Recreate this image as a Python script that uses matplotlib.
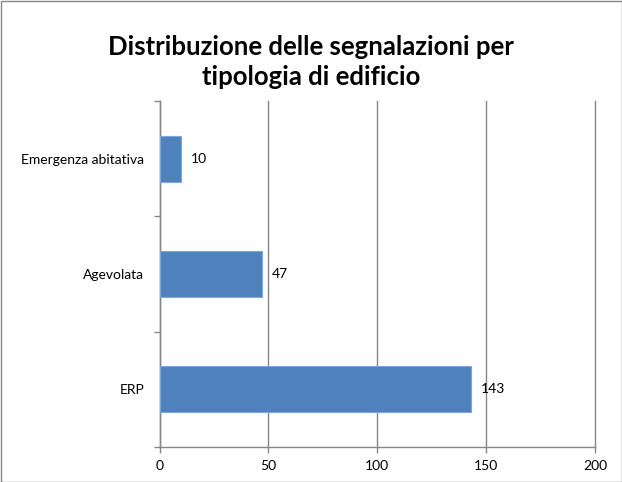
import matplotlib

matplotlib.use("Agg")
import matplotlib.pyplot as plt
from matplotlib.patches import Rectangle

plt.rcParams["font.family"] = ["Lato", "DejaVu Sans"]

categories = ["ERP", "Agevolata", "Emergenza abitativa"]
values = [143, 47, 10]
x_ticks = [0, 50, 100, 150, 200]

BAR = "#4F81BD"
GRID = "#868686"

fig = plt.figure(figsize=(6.22, 4.82), dpi=100)
fig.patches.append(
    Rectangle((0.5 / 622, 0.5 / 482), 1 - 1 / 622, 1 - 1 / 482, transform=fig.transFigure,
              fill=False, edgecolor=GRID, linewidth=1.0)
)

W, H = 622, 482
left, right, top, bottom = 159.5, 595, 101, 447
ax = fig.add_axes([left / W, 1 - bottom / H, (right - left) / W, (bottom - top) / H])

pos = range(len(categories))
ax.barh(pos, values, height=0.4, color=BAR, edgecolor="#7EA6D9", linewidth=0.8, zorder=3)
for y, v in zip(pos, values):
    ax.annotate(str(v), (v, y), xytext=(7, 0), textcoords="offset points",
                ha="left", va="center", fontsize=10, color="black", zorder=4)

ax.set_xlim(0, 200)
ax.set_ylim(-0.5, len(categories) - 0.5)
ax.set_xticks(x_ticks)
ax.set_yticks(list(pos))
ax.set_yticklabels(categories)
ax.set_yticks([-0.5, 0.5, 1.5, 2.5], minor=True)
ax.tick_params(axis="y", which="major", length=0, pad=11, labelsize=10)
ax.tick_params(axis="y", which="minor", length=4, color=GRID, width=1)
ax.tick_params(axis="x", length=4, color=GRID, width=1, labelsize=10, pad=5)

ax.grid(axis="x", color=GRID, linewidth=1, zorder=0)
for gl in ax.get_xgridlines():
    gl.set_clip_on(False)
for side in ("top", "right"):
    ax.spines[side].set_visible(False)
for side in ("left", "bottom"):
    ax.spines[side].set_color(GRID)
    ax.spines[side].set_linewidth(1)

fig.text(0.5, 1 - 47 / H, "Distribuzione delle segnalazioni per", ha="center", va="center",
         fontsize=18.5, fontweight="bold")
fig.text(0.5, 1 - 77 / H, "tipologia di edificio", ha="center", va="center",
         fontsize=18.5, fontweight="bold")

fig.savefig("out.png", dpi=100)
